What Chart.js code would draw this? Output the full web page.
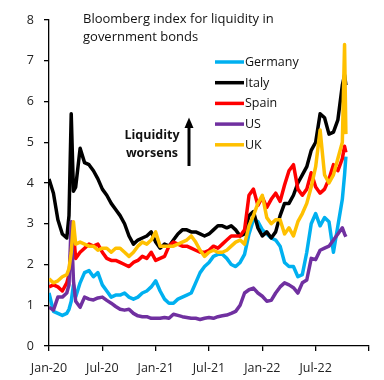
<!DOCTYPE html>
<html>
<head>
<meta charset="utf-8">
<script src="https://cdn.jsdelivr.net/npm/chart.js@4.4.1/dist/chart.umd.min.js"></script>
<style>
  html, body { margin: 0; padding: 0; background: #fff; }
  #wrap { position: relative; width: 384px; height: 380px; }
  #title { position: absolute; left: 83px; top: 9px; font-family: "Open Sans", sans-serif; font-size: 13px; line-height: 18px; color: #111; white-space: nowrap; }
  #note { position: absolute; left: 118px; top: 126px; width: 68px; text-align: center; font-family: "Open Sans", sans-serif; font-weight: bold; font-size: 12.5px; line-height: 18px; color: #111; }
</style>
</head>
<body>
<div id="wrap">
  <canvas id="c" width="384" height="380"></canvas>
  <div id="title">Bloomberg index for liquidity in<br>government bonds</div>
  <div id="note">Liquidity<br>worsens</div>
</div>
<script>
// months since Jan 2020
const months = [0,0.5,1,1.5,2,2.25,2.5,2.75,3,3.5,4,4.5,5,5.5,6,6.5,7,7.5,8,8.5,9,9.5,10,10.5,11,11.5,12,12.5,13,13.5,14,14.5,15,15.5,16,16.5,17,17.5,18,18.5,19,19.5,20,20.5,21,21.5,22,22.5,23,23.5,24,24.5,25,25.5,26,26.5,27,27.5,28,28.5,29,29.5,30,30.5,31,31.5,32,32.5,33,33.25,33.4];

const germany = [1.3,0.85,0.8,0.75,0.8,0.9,1.1,1.5,1.2,1.55,1.8,1.85,1.7,1.8,1.5,1.35,1.2,1.25,1.25,1.3,1.2,1.15,1.2,1.3,1.35,1.45,1.6,1.35,1.15,1.05,1.05,1.15,1.2,1.25,1.3,1.55,1.8,1.95,2.05,2.2,2.25,2.25,2.15,2.0,1.95,2.05,2.25,2.75,3.1,3.05,2.85,2.75,2.65,2.6,2.45,2.05,1.95,1.95,1.7,1.75,2.3,3.0,3.25,2.95,3.15,3.05,2.3,2.95,3.6,4.2,4.65];

const italy = [4.1,3.75,3.1,2.75,2.65,3.2,5.7,3.8,3.9,4.85,4.5,4.45,4.3,4.1,3.85,3.7,3.5,3.35,3.2,3.0,2.7,2.5,2.6,2.65,2.7,2.8,2.55,2.4,2.5,2.45,2.6,2.75,2.85,2.85,2.8,2.8,2.75,2.7,2.75,2.85,2.95,2.95,2.9,2.95,2.85,2.7,2.75,3.2,3.3,2.9,2.7,2.8,2.65,2.8,3.2,3.5,3.5,3.7,4.0,4.2,4.4,4.8,5.0,5.7,5.6,5.2,5.25,5.55,6.4,6.65,6.4];

const spain = [1.45,1.5,1.45,1.35,1.55,1.75,2.4,2.8,2.15,2.3,2.4,2.5,2.45,2.5,2.3,2.15,2.1,2.1,2.05,2.0,1.95,2.05,2.1,2.2,2.15,2.3,2.1,2.15,2.2,2.45,2.55,2.5,2.45,2.45,2.4,2.35,2.3,2.3,2.35,2.45,2.4,2.5,2.6,2.7,2.7,2.7,2.85,3.7,3.85,3.45,3.65,3.4,3.6,3.75,3.55,3.95,4.3,4.45,3.85,3.7,3.85,4.25,3.9,3.75,3.85,4.1,4.45,4.3,4.6,4.9,4.75];

const us = [0.95,0.88,1.2,1.2,1.3,1.5,3.05,1.6,1.1,0.95,1.2,1.15,1.13,1.18,1.2,1.12,1.05,0.97,0.9,0.88,0.9,0.8,0.74,0.72,0.72,0.68,0.68,0.68,0.7,0.68,0.78,0.75,0.72,0.7,0.68,0.68,0.65,0.68,0.7,0.68,0.72,0.74,0.76,0.8,0.85,1.0,1.3,1.38,1.42,1.3,1.22,1.1,1.12,1.3,1.45,1.55,1.5,1.43,1.3,1.55,1.62,2.15,2.12,2.35,2.4,2.45,2.6,2.75,2.9,2.75,2.68];

const uk = [1.65,1.55,1.6,1.7,1.75,1.9,2.3,3.05,2.5,2.55,2.5,2.45,2.45,2.35,2.4,2.4,2.3,2.4,2.4,2.3,2.2,2.3,2.45,2.55,2.5,2.6,2.8,2.45,2.45,2.45,2.45,2.5,2.55,2.6,2.7,2.55,2.35,2.2,2.3,2.35,2.3,2.3,2.35,2.45,2.55,2.6,2.5,2.95,3.2,3.5,3.7,3.15,3.0,3.1,3.1,2.75,2.9,2.7,3.05,3.25,3.5,3.9,4.4,5.3,4.2,4.0,4.2,4.6,5.0,7.4,5.2];

const seriesNames = ['Germany','Italy','Spain','US','UK'];
const tickLabels = ['Jan-20','Jul-20','Jan-21','Jul-21','Jan-22','Jul-22',''];

const colors = ['#00B0F0','#000000','#FF0000','#7030A0','#FFC000'];
const values = [germany, italy, spain, us, uk];

const datasets = values.map((arr, i) => ({
  label: seriesNames[i],
  data: arr.map((v, j) => ({ x: months[j], y: v })),
  borderColor: colors[i],
  backgroundColor: colors[i],
  borderWidth: 3.5,
  pointRadius: 0,
  tension: 0,
  fill: false,
  borderJoinStyle: 'round',
  order: values.length - i
}));

const overlay = {
  id: 'overlay',
  afterDraw(chart) {
    const ctx = chart.ctx;
    ctx.save();
    // legend
    const x0 = 215, x1 = 244;
    const rowY = [62, 82.7, 103.4, 124.1, 144.8];
    ctx.font = '12.5px "Open Sans", sans-serif';
    ctx.textBaseline = 'middle';
    ctx.textAlign = 'left';
    chart.data.datasets.forEach((ds, i) => {
      ctx.strokeStyle = ds.borderColor;
      ctx.lineWidth = 3.5;
      ctx.beginPath();
      ctx.moveTo(x0, rowY[i]);
      ctx.lineTo(x1, rowY[i]);
      ctx.stroke();
      ctx.fillStyle = '#111';
      ctx.fillText(ds.label, x1 + 1, rowY[i] + 0.5);
    });
    // arrow
    ctx.strokeStyle = '#000';
    ctx.fillStyle = '#000';
    ctx.lineWidth = 3;
    ctx.beginPath();
    ctx.moveTo(189, 166);
    ctx.lineTo(189, 126);
    ctx.stroke();
    ctx.beginPath();
    ctx.moveTo(189, 117.5);
    ctx.lineTo(184.5, 128);
    ctx.lineTo(193.5, 128);
    ctx.closePath();
    ctx.fill();
    ctx.restore();
  }
};

new Chart(document.getElementById('c'), {
  type: 'line',
  data: { datasets },
  options: {
    responsive: false,
    animation: false,
    events: [],
    layout: { padding: { left: 0, right: 15, top: 20, bottom: 0 } },
    plugins: { legend: { display: false }, tooltip: { enabled: false } },
    scales: {
      x: {
        type: 'linear',
        min: 0, max: 36,
        afterFit(s) { s.height = 34; },
        afterBuildTicks(s) { s.ticks = [0,6,12,18,24,30,36].map(v => ({ value: v })); },
        ticks: {
          autoSkip: false, maxRotation: 0, padding: 10,
          color: '#222',
          font: { family: 'Open Sans', size: 12.5 },
          callback: (v) => tickLabels[Math.round(v / 6)]
        },
        grid: { drawOnChartArea: false, drawTicks: true, tickLength: 5, color: '#000', lineWidth: 1.3 },
        border: { display: true, color: '#000', width: 1.3 }
      },
      y: {
        min: 0, max: 8,
        afterFit(s) { s.width = 49; },
        ticks: {
          stepSize: 1, padding: 10, color: '#222',
          font: { family: 'Open Sans', size: 12.5 }
        },
        grid: { drawOnChartArea: false, drawTicks: true, tickLength: 5, color: '#000', lineWidth: 1.3 },
        border: { display: true, color: '#000', width: 1.3 }
      }
    }
  },
  plugins: [overlay]
});
</script>
</body>
</html>
